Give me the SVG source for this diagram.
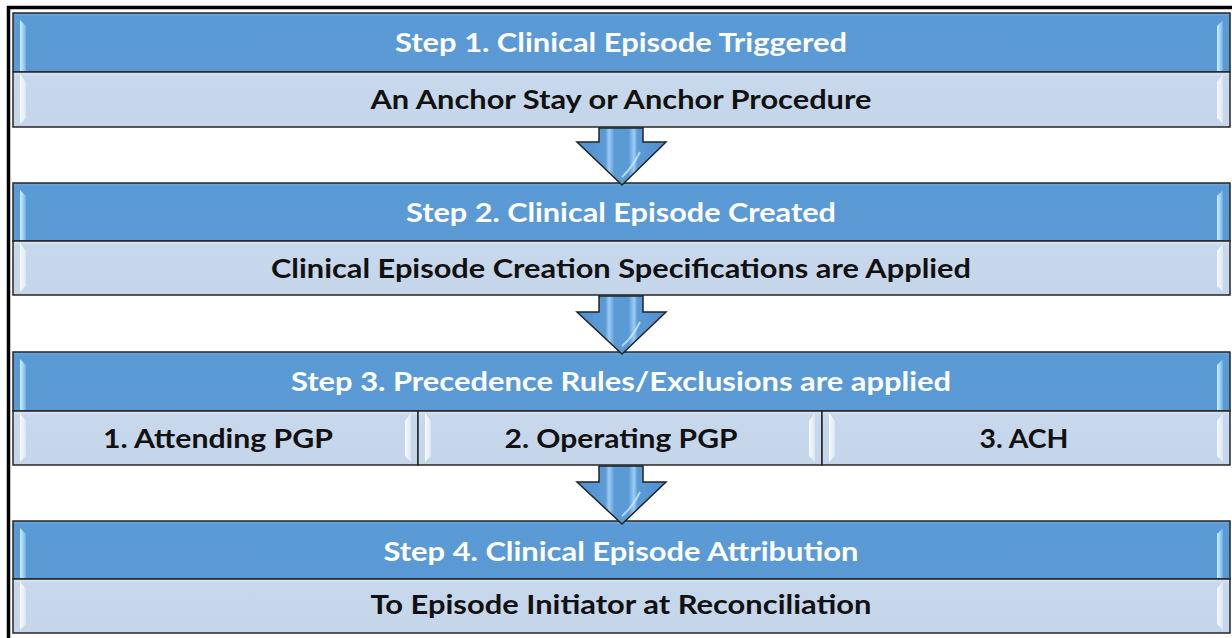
<svg xmlns="http://www.w3.org/2000/svg" width="1232" height="638" viewBox="0 0 1232 638">
<defs>
<linearGradient id="hdr" x1="0" y1="0" x2="0" y2="1">
<stop offset="0" stop-color="#6FA8DD"/>
<stop offset="0.06" stop-color="#5B9BD5"/>
<stop offset="1" stop-color="#5A99D4"/>
</linearGradient>
<linearGradient id="row" x1="0" y1="0" x2="0" y2="1">
<stop offset="0" stop-color="#DCE6F3"/>
<stop offset="0.08" stop-color="#C8D8EC"/>
<stop offset="1" stop-color="#C5D5EA"/>
</linearGradient>
<linearGradient id="bevH" x1="0" y1="0" x2="1" y2="0">
<stop offset="0" stop-color="#CFEFFF"/>
<stop offset="0.5" stop-color="#9FD3FA"/>
<stop offset="1" stop-color="#6FAFE4"/>
</linearGradient>
<linearGradient id="bevR" x1="0" y1="0" x2="1" y2="0">
<stop offset="0" stop-color="#FFFFFF"/>
<stop offset="1" stop-color="#DCE8F6"/>
</linearGradient>
<linearGradient id="arr" x1="0" y1="0" x2="1" y2="0">
<stop offset="0" stop-color="#4F8FCF"/>
<stop offset="0.32" stop-color="#5B9BD5"/>
<stop offset="0.36" stop-color="#9CCDF5"/>
<stop offset="0.42" stop-color="#5B9BD5"/>
<stop offset="0.58" stop-color="#5B9BD5"/>
<stop offset="0.64" stop-color="#9CCDF5"/>
<stop offset="0.68" stop-color="#5B9BD5"/>
<stop offset="1" stop-color="#4F8FCF"/>
</linearGradient>
</defs>
<style>
.hdr{fill:url(#hdr);stroke:#262626;stroke-width:1.5}
.row{fill:url(#row);stroke:#262626;stroke-width:1.5}
.bh{fill:url(#bevH)}
.br{fill:url(#bevR);opacity:0.9}
.t{font-family:Lato,"Open Sans","Liberation Sans",sans-serif;font-weight:bold;font-size:27.5px;text-anchor:middle}
.th{fill:#FFFFFF}
.tr{fill:#111111}
.arrow{fill:url(#arr);stroke:#222222;stroke-width:1.5;stroke-linejoin:miter}
.shine{fill:none;stroke:#CFEBFF;stroke-width:2;opacity:0.75}
</style>
<rect x="0" y="0" width="1232" height="638" fill="#FFFFFF"/>
<rect id="frame" x="8.5" y="7.5" width="1240" height="640" fill="none" stroke="#000000" stroke-width="3.5"/>

<g id="step1">
<rect class="hdr" x="13" y="13" width="1217" height="59"/>
<rect class="row" x="13" y="72" width="1217" height="55"/>
<polygon class="bh" points="20,20 26,26 26,71 20,71"/>
<polygon class="bh" points="1223,20 1217,26 1217,71 1223,71"/>
<polygon class="br" points="20,74 26,82 26,118 20,124"/>
<polygon class="br" points="1223,74 1217,82 1217,118 1223,124"/>
<text class="t th" x="621" y="52" textLength="452" lengthAdjust="spacingAndGlyphs">Step 1. Clinical Episode Triggered</text>
<text class="t tr" x="621" y="109" textLength="501" lengthAdjust="spacingAndGlyphs">An Anchor Stay or Anchor Procedure</text>
</g>

<g id="step2">
<rect class="hdr" x="13" y="183" width="1217" height="58"/>
<rect class="row" x="13" y="241" width="1217" height="54"/>
<polygon class="bh" points="20,190 26,196 26,240 20,240"/>
<polygon class="bh" points="1223,190 1217,196 1217,240 1223,240"/>
<polygon class="br" points="20,243 26,251 26,286 20,292"/>
<polygon class="br" points="1223,243 1217,251 1217,286 1223,292"/>
<text class="t th" x="621" y="222" textLength="430" lengthAdjust="spacingAndGlyphs">Step 2. Clinical Episode Created</text>
<text class="t tr" x="621" y="278" textLength="700" lengthAdjust="spacingAndGlyphs">Clinical Episode Creation Specifications are Applied</text>
</g>

<g id="step3">
<rect class="hdr" x="13" y="352" width="1217" height="59"/>
<polygon class="bh" points="20,359 26,365 26,410 20,410"/>
<polygon class="bh" points="1223,359 1217,365 1217,410 1223,410"/>
<text class="t th" x="621" y="391" textLength="660" lengthAdjust="spacingAndGlyphs">Step 3. Precedence Rules/Exclusions are applied</text>
</g>
<g id="step3-attending">
<rect class="row" x="13" y="411" width="405" height="54"/>
<polygon class="br" points="20,413 26,421 26,456 20,462"/>
<polygon class="br" points="411,413 405,421 405,456 411,462"/>
<text class="t tr" x="218" y="448" textLength="230" lengthAdjust="spacingAndGlyphs">1. Attending PGP</text>
</g>
<g id="step3-operating">
<rect class="row" x="418" y="411" width="404" height="54"/>
<polygon class="br" points="425,413 431,421 431,456 425,462"/>
<polygon class="br" points="815,413 809,421 809,456 815,462"/>
<text class="t tr" x="621" y="448" textLength="233" lengthAdjust="spacingAndGlyphs">2. Operating PGP</text>
</g>
<g id="step3-ach">
<rect class="row" x="822" y="411" width="408" height="54"/>
<polygon class="br" points="829,413 835,421 835,456 829,462"/>
<polygon class="br" points="1223,413 1217,421 1217,456 1223,462"/>
<text class="t tr" x="1024" y="448" textLength="89" lengthAdjust="spacingAndGlyphs">3. ACH</text>
</g>

<g id="step4">
<rect class="hdr" x="13" y="521" width="1217" height="58"/>
<rect class="row" x="13" y="579" width="1217" height="54"/>
<polygon class="bh" points="20,528 26,534 26,578 20,578"/>
<polygon class="bh" points="1223,528 1217,534 1217,578 1223,578"/>
<polygon class="br" points="20,581 26,589 26,624 20,630"/>
<polygon class="br" points="1223,581 1217,589 1217,624 1223,630"/>
<text class="t th" x="621" y="561" textLength="475" lengthAdjust="spacingAndGlyphs">Step 4. Clinical Episode Attribution</text>
<text class="t tr" x="621" y="614" textLength="501" lengthAdjust="spacingAndGlyphs">To Episode Initiator at Reconciliation</text>
</g>

<g id="connectors">
<g id="arrow1">
<polygon class="arrow" points="599,128 643,128 643,142 666,142 622,185 577,142 599,142"/>
<path class="shine" d="M640,152 Q632,168 622,177"/>
</g>
<g id="arrow2">
<polygon class="arrow" points="599,296 643,296 643,312 666,312 622,354 577,312 599,312"/>
<path class="shine" d="M640,322 Q632,338 622,346"/>
</g>
<g id="arrow3">
<polygon class="arrow" points="599,466 643,466 643,482 666,482 622,524 577,482 599,482"/>
<path class="shine" d="M640,492 Q632,508 622,516"/>
</g>
</g>
</svg>
